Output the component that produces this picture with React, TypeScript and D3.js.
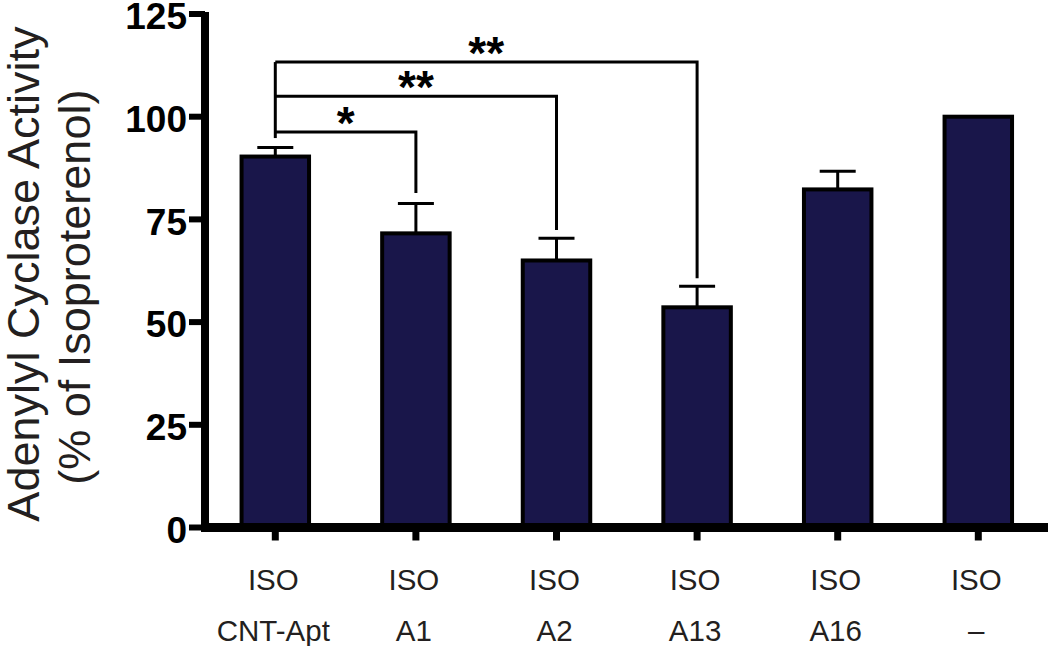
import React from "react";
import * as d3 from "d3";

const categoriesTop = ["ISO", "ISO", "ISO", "ISO", "ISO", "ISO"];
const categoriesBottom = ["CNT-Apt", "A1", "A2", "A13", "A16", "–"];
const values = [90.3, 71.6, 65.0, 53.6, 82.3, 100];
const errors = [2.2, 7.3, 5.4, 5.1, 4.4, 0];
const yTicks = [0, 25, 50, 75, 100, 125];
// significance brackets: from index, to index, bracket level, drop end (value), label
const bracketFrom = [0, 0, 0];
const bracketTo = [1, 2, 3];
const bracketLevel = [96.3, 105.0, 113.3];
const bracketDropEnd = [81.4, 72.4, 60.7];
const bracketLabel = ["*", "**", "**"];
const bracketLeftEnd = 94.8;

const W = 1050;
const H = 646;
const BAR_FILL = "#19164a";
const INK = "#000000";
const TEXT = "#231f20";

export default function App() {
  const keys = categoriesBottom.map((_, i) => String(i));
  const x = d3
    .scaleBand<string>()
    .domain(keys)
    .range([205, 1048.6])
    .paddingInner(0.52)
    .paddingOuter(0.26);
  const y = d3.scaleLinear().domain([0, 125]).range([527.5, 14]);
  const cx = (i: number) => (x(String(i)) as number) + x.bandwidth() / 2;
  const axisX = 205;
  const font = "Liberation Sans, Arial, Helvetica, sans-serif";

  return (
    <svg
      width={W}
      height={H}
      style={{ position: "fixed", left: 0, top: 0, background: "#fff" }}
      fontFamily={font}
    >
      <rect x={0} y={0} width={W} height={H} fill="#fff" />
      {/* Y axis label */}
      <g transform={`translate(39, ${y(61.7)}) rotate(-90)`}>
        <text textAnchor="middle" fontSize={45} fill={TEXT}>
          Adenylyl Cyclase Activity
        </text>
      </g>
      <g transform={`translate(90, ${y(58.5)}) rotate(-90)`}>
        <text textAnchor="middle" fontSize={45} fill={TEXT}>
          (% of Isoproterenol)
        </text>
      </g>

      {/* bars */}
      {values.map((v, i) => (
        <rect
          key={"b" + i}
          x={x(String(i)) as number}
          y={y(v)}
          width={x.bandwidth()}
          height={y(0) - y(v)}
          fill={BAR_FILL}
          stroke={INK}
          strokeWidth={4}
        />
      ))}
      {/* error bars */}
      {values.map((v, i) =>
        errors[i] > 0 ? (
          <g key={"e" + i} stroke={INK} strokeWidth={3}>
            <line x1={cx(i)} x2={cx(i)} y1={y(v)} y2={y(v + errors[i])} />
            <line
              x1={cx(i) - 18}
              x2={cx(i) + 18}
              y1={y(v + errors[i])}
              y2={y(v + errors[i])}
            />
          </g>
        ) : null
      )}

      {/* brackets */}
      {bracketFrom.map((f, k) => {
        const x1 = cx(f);
        const x2 = cx(bracketTo[k]);
        const yl = y(bracketLevel[k]);
        return (
          <g key={"br" + k}>
            <path
              d={`M${x1},${yl} H${x2} V${y(bracketDropEnd[k])}`}
              fill="none"
              stroke={INK}
              strokeWidth={3}
            />
            <text
              x={(x1 + x2) / 2}
              y={yl + 7}
              textAnchor="middle"
              fontSize={46}
              fontWeight="bold"
              fill={INK}
            >
              {bracketLabel[k]}
            </text>
          </g>
        );
      })}
      <line
        x1={cx(0)}
        x2={cx(0)}
        y1={y(d3.max(bracketLevel) as number)}
        y2={y(bracketLeftEnd)}
        stroke={INK}
        strokeWidth={3}
      />

      {/* Y axis */}
      <line x1={axisX} x2={axisX} y1={y(125) - 2} y2={y(0) + 4.5} stroke={INK} strokeWidth={8} />
      {yTicks.map((t) => (
        <g key={"yt" + t}>
          <line x1={189} x2={axisX} y1={y(t)} y2={y(t)} stroke={INK} strokeWidth={6} />
          <text
            x={187}
            y={y(t)}
            dy="0.41em"
            textAnchor="end"
            fontSize={37}
            fontWeight="bold"
            fill={INK}
          >
            {t}
          </text>
        </g>
      ))}

      {/* X axis */}
      <line x1={axisX - 4} x2={1048} y1={y(0)} y2={y(0)} stroke={INK} strokeWidth={9} />
      {keys.map((k, i) => (
        <line
          key={"xt" + i}
          x1={cx(i)}
          x2={cx(i)}
          y1={y(0)}
          y2={y(0) + 13}
          stroke={INK}
          strokeWidth={7}
        />
      ))}
      {keys.map((k, i) => (
        <g key={"xl" + i}>
          <text x={cx(i) - 2} y={590} textAnchor="middle" fontSize={29.5} fill={TEXT}>
            {categoriesTop[i]}
          </text>
          <text x={cx(i) - 2} y={641} textAnchor="middle" fontSize={29.5} fill={TEXT}>
            {categoriesBottom[i]}
          </text>
        </g>
      ))}
    </svg>
  );
}
